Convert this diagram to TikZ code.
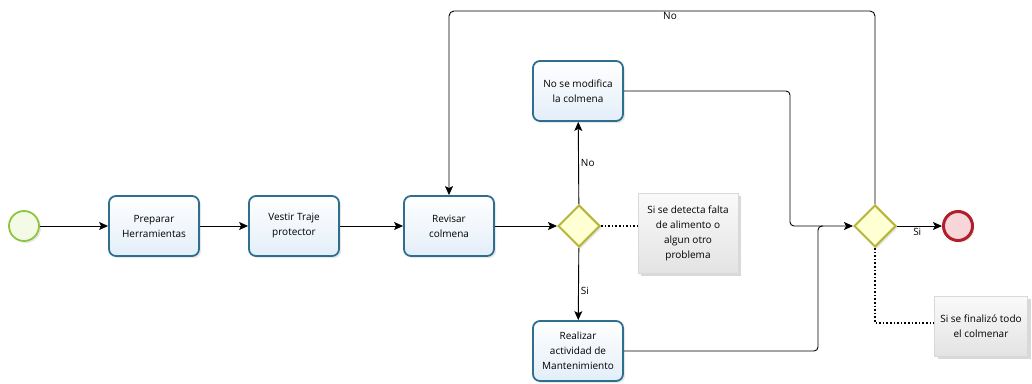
\documentclass[tikz,border=0pt]{standalone}
\usepackage{fontspec}
\setmainfont{Open Sans}
\usetikzlibrary{arrows.meta,shapes.geometric,shadows}
\definecolor{taskline}{HTML}{2E6E8E}
\definecolor{taskfill}{HTML}{E3EEF9}
\definecolor{gwline}{HTML}{B5B53A}
\definecolor{gwfill}{HTML}{FFFFD4}
\definecolor{startline}{HTML}{8CC63F}
\definecolor{startfill}{HTML}{F3FAE6}
\definecolor{endline}{HTML}{B0202A}
\definecolor{endfill}{HTML}{F7D6DA}
\begin{document}
\begin{tikzpicture}[x=1pt,y=-1pt,
  font=\fontsize{10}{15}\selectfont,
  softshadow/.style={drop shadow={opacity=0.18,shadow xshift=2pt,shadow yshift=-2pt}},
  task/.style={draw=taskline, line width=1.8pt, rounded corners=7pt,
    top color=white, bottom color=taskfill, minimum width=90pt,
    minimum height=60pt, align=center, inner sep=2pt, softshadow},
  gateway/.style={diamond, aspect=1, draw=gwline, line width=2pt,
    fill=gwfill, minimum width=42pt, minimum height=42pt, inner sep=0pt, softshadow},
  startev/.style={circle, draw=startline, line width=1.8pt, fill=startfill,
    minimum size=30pt, inner sep=0pt, softshadow},
  endev/.style={circle, draw=endline, line width=3pt, fill=endfill,
    minimum size=29pt, inner sep=0pt, softshadow},
  note/.style={draw=gray!30, line width=0.4pt, top color=gray!4, bottom color=gray!22,
    align=center, inner sep=2pt,
    drop shadow={opacity=0.3,shadow xshift=3pt,shadow yshift=-3pt}},
  flow/.style={line width=0.9pt, -{Stealth[length=9pt,width=8pt,inset=2pt]}},
  plain/.style={line width=0.9pt},
  assoc/.style={line width=1.6pt, dotted},
  lbl/.style={inner sep=1pt, font=\fontsize{10}{11}\selectfont}
]
\useasboundingbox (0,0) rectangle (1032,383);

% events, tasks and gateways
\node[startev] (start) at (24,226) {};
\node[task] (t1) at (154,226) {Preparar\\Herramientas};
\node[task] (t2) at (294,226) {Vestir Traje\\protector};
\node[task] (t3) at (449,226) {Revisar\\colmena};
\node[gateway] (g1) at (579,226) {};
\node[task] (tno) at (578,91) {No se modifica\\la colmena};
\node[task] (tsi) at (578,351) {Realizar\\actividad de\\Mantenimiento};
\node[gateway] (g2) at (875,226) {};
\node[endev] (fin) at (958,226) {};

% annotations
\node[note, minimum width=100pt, minimum height=80pt] (ann1) at (688,233)
  {Si se detecta falta\\de alimento o\\algun otro\\problema};
\node[note, minimum width=93pt, minimum height=60pt] (ann2) at (981,326)
  {Si se finalizó todo\\el colmenar};

% routing points
\coordinate (m1) at (790,226);
\coordinate (m2) at (818,226);
\coordinate (top) at (670,11);
\coordinate (a2) at (875,323);

% sequence flows
\draw[flow] (start) -- (t1);
\draw[flow] (t1) -- (t2);
\draw[flow] (t2) -- (t3);
\draw[flow] (t3) -- (g1);
\draw[flow] (g1) -- node[lbl, right, pos=0.5, xshift=1pt] {No} (tno);
\draw[flow] (g1) -- node[lbl, right, pos=0.6, xshift=1pt] {Si} (tsi);
\draw[flow, rounded corners=4pt] (tno.east) -| (m1) -- (g2.west);
\draw[plain, rounded corners=4pt] (tsi.east) -| (m2) -- ++(5,0);
\draw[flow] (g2.east) -- node[lbl, below, pos=0.45, yshift=-1pt] {Si} (fin);
\draw[flow, rounded corners=5pt] (g2.north) |- (top) -| (t3.north);
\node[lbl, below] at (top) {No};

% associations
\draw[assoc] (g1.east) -- (ann1.west |- g1.east);
\draw[assoc] (g2.south) -- (a2) -- (ann2.west |- a2);
\end{tikzpicture}
\end{document}
